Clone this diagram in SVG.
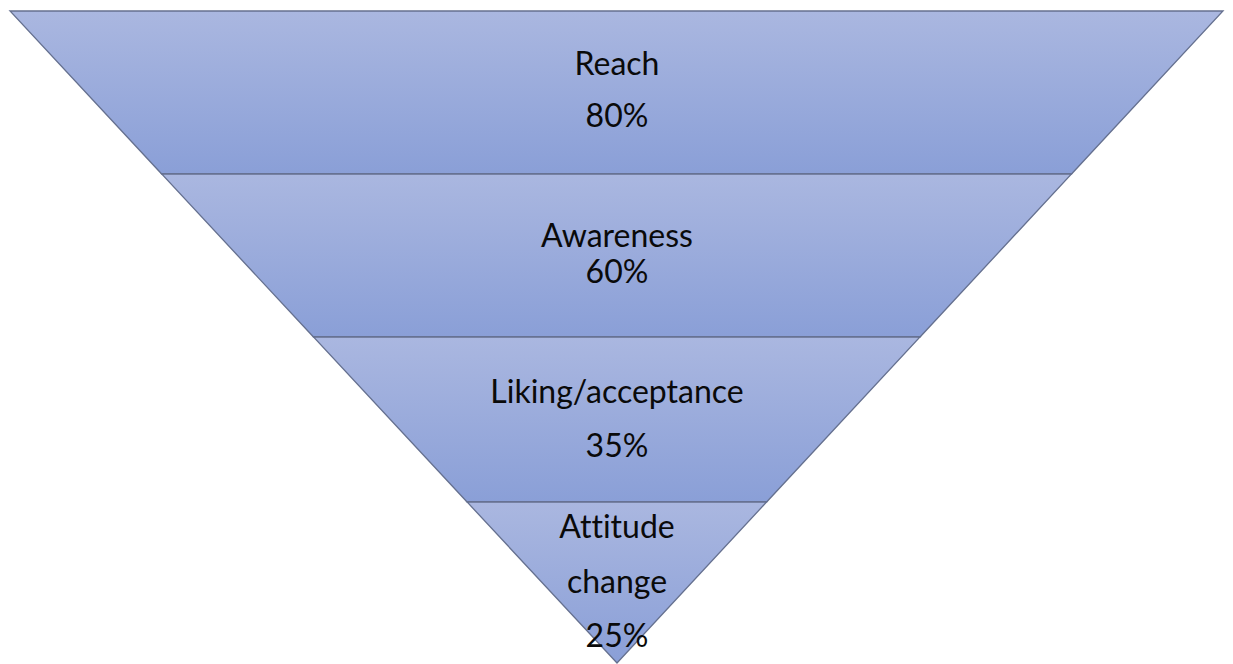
<svg xmlns="http://www.w3.org/2000/svg" width="1233" height="664" viewBox="0 0 1233 664">
  <defs>
    <linearGradient id="bandFill" x1="0" y1="0" x2="0" y2="1">
      <stop offset="0" stop-color="#aab7e0"/>
      <stop offset="1" stop-color="#8a9fd7"/>
    </linearGradient>
  </defs>
  <style>
    .band { fill: url(#bandFill); stroke: #65708f; stroke-width: 1.3; stroke-linejoin: miter; }
    .lbl { font-family: Lato, "Open Sans", "Liberation Sans", sans-serif; font-size: 32px; fill: #0a0a0a; text-anchor: middle; font-variant-ligatures: none; font-feature-settings: "liga" 0, "clig" 0; }
  </style>
  <rect width="1233" height="664" fill="#ffffff"/>
  <g id="reach">
    <polygon class="band" points="10,11 1223,11 1071.5,174 161.7,174"/>
    <text class="lbl" x="617" y="75">Reach</text>
    <text class="lbl" x="617" y="127">80%</text>
  </g>
  <g id="awareness">
    <polygon class="band" points="161.7,174 1071.5,174 920,337 313.5,337"/>
    <text class="lbl" x="617" y="247">Awareness</text>
    <text class="lbl" x="617" y="283">60%</text>
  </g>
  <g id="liking">
    <polygon class="band" points="313.5,337 920,337 766.6,502 467.1,502"/>
    <text class="lbl" x="617" y="403">Liking/acceptance</text>
    <text class="lbl" x="617" y="457">35%</text>
  </g>
  <g id="attitude">
    <polygon class="band" points="467.1,502 766.6,502 617,663"/>
    <text class="lbl" x="617" y="538">Attitude</text>
    <text class="lbl" x="617" y="593">change</text>
    <text class="lbl" x="617" y="647">25%</text>
  </g>
  <g id="connectors"/>
</svg>
